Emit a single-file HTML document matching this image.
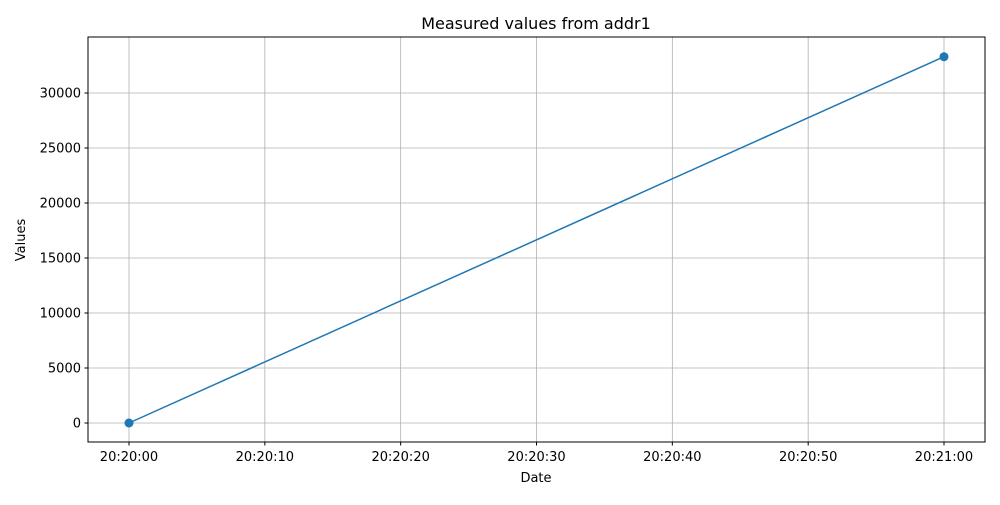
<!DOCTYPE html>
<html><head><meta charset="utf-8"><style>
body{margin:0;background:#fff;font-family:"Liberation Sans","DejaVu Sans",sans-serif;}
svg text{font-family:"DejaVu Sans","Liberation Sans",sans-serif;}
</style></head><body>
<svg id="chart" width="1000" height="500" xmlns="http://www.w3.org/2000/svg">
<rect width="1000" height="500" fill="#fff"/>
<text x="536" y="29" font-size="16" text-anchor="middle">Measured values from addr1</text>
<g id="grid"></g>
<g id="ticks"></g>
<g id="series"></g>
<rect x="88" y="37" width="897" height="405" fill="none" stroke="#000" stroke-width="1"/>
<text x="536" y="482" font-size="13" text-anchor="middle">Date</text>
<text x="25" y="240" font-size="13" text-anchor="middle" transform="rotate(-90 25 240)">Values</text>
</svg>
<script>
const xSeconds=[0,60];
const yValues=[0,33300];
const xTickSeconds=[0,10,20,30,40,50,60];
const xTickLabels=["20:20:00","20:20:10","20:20:20","20:20:30","20:20:40","20:20:50","20:21:00"];
const yTicks=[0,5000,10000,15000,20000,25000,30000];
const ns="http://www.w3.org/2000/svg";
const X=s=>129+s*(944-129)/60;
const Y=v=>423-v*0.011;
const grid=document.getElementById('grid'),ticks=document.getElementById('ticks'),ser=document.getElementById('series');
function mk(tag,a,p){const e=document.createElementNS(ns,tag);for(const k in a)e.setAttribute(k,a[k]);p.appendChild(e);return e;}
xTickSeconds.forEach((s,i)=>{const x=X(s);
 const g=mk('line',{x1:x,x2:x,y1:37,y2:442,stroke:'#b0b0b0','stroke-width':0.8},grid);
 
 
 mk('line',{x1:x,x2:x,y1:442,y2:445.5,stroke:'#000'},ticks);
 const t=mk('text',{x:x,y:461,'font-size':13,'text-anchor':'middle'},ticks);t.textContent=xTickLabels[i];
 
 });
yTicks.forEach(v=>{const y=Y(v);
 const g=mk('line',{x1:88,x2:985,y1:y,y2:y,stroke:'#b0b0b0','stroke-width':0.8},grid);
 
 
 mk('line',{x1:84.5,x2:88,y1:y,y2:y,stroke:'#000'},ticks);
 const t=mk('text',{x:81,y:y+4.5,'font-size':13,'text-anchor':'end'},ticks);t.textContent=v;
 
 });
const pl=mk('polyline',{points:xSeconds.map((s,i)=>X(s)+','+Y(yValues[i])).join(' '),fill:'none',stroke:'#1f77b4','stroke-width':1.5},ser);


xSeconds.forEach((s,i)=>{const c=mk('circle',{cx:X(s),cy:Y(yValues[i]),r:4.5,fill:'#1f77b4'},ser);
 
 });
</script>
</body></html>
